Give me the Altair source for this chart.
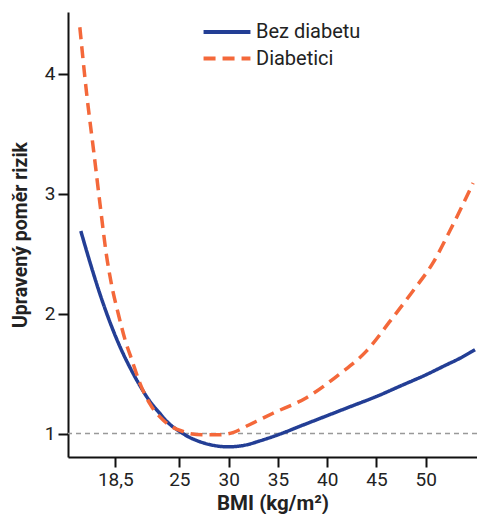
import altair as alt
import pandas as pd

series_names = ["Bez diabetu", "Diabetici"]

bmi_bez = [15.0, 16.0, 17.0, 18.0, 19.0, 20.0, 21.0, 22.0, 23.0, 24.0, 25.0, 26.0, 27.0, 28.0, 29.0, 30.0, 31.0, 32.0, 33.0, 35.0, 37.5, 40.0, 42.5, 45.0, 47.5, 50.0, 52.0, 53.5, 55.0]
rr_bez = [2.69, 2.41, 2.15, 1.92, 1.72, 1.55, 1.40, 1.27, 1.17, 1.08, 1.02, 0.97, 0.935, 0.91, 0.895, 0.89, 0.895, 0.91, 0.935, 0.99, 1.07, 1.15, 1.23, 1.31, 1.40, 1.49, 1.57, 1.63, 1.70]

bmi_dia = [14.9, 15.6, 16.3, 17.0, 17.6, 18.1, 18.8, 19.5, 20.2, 21.0, 22.0, 23.4, 24.4, 25.3, 26.1, 27.4, 29.0, 30.5, 32.0, 34.5, 37.9, 41.3, 44.0, 46.4, 48.7, 50.7, 52.5, 54.8]
rr_dia = [4.39, 3.83, 3.36, 2.88, 2.49, 2.25, 2.00, 1.78, 1.61, 1.42, 1.25, 1.11, 1.05, 1.02, 1.00, 0.99, 0.99, 1.01, 1.07, 1.17, 1.30, 1.50, 1.69, 1.94, 2.19, 2.42, 2.70, 3.09]

x_ticks = [18.5, 25, 30, 35, 40, 45, 50]
y_ticks = [1, 2, 3, 4]
ref_value = [1]

df = pd.concat([
    pd.DataFrame({"bmi": bmi_bez, "rr": rr_bez, "skupina": series_names[0]}),
    pd.DataFrame({"bmi": bmi_dia, "rr": rr_dia, "skupina": series_names[1]}),
])

FONT = "Roboto"

x_scale = alt.Scale(domain=[13.7, 55.2], nice=False, zero=False)
y_scale = alt.Scale(domain=[0.805, 4.517], nice=False, zero=False)

ref = alt.Chart(pd.DataFrame({"v": ref_value})).mark_rule(
    color="#999999", strokeWidth=1.5, strokeDash=[5, 4]
).encode(y=alt.Y("v:Q", scale=y_scale))

legend = alt.Legend(title=None, orient="none", legendX=145, legendY=6,
                    symbolType="M-2,0H2", symbolSize=550, symbolStrokeWidth=4,
                    labelFontSize=20, labelFont=FONT, labelColor="#222222",
                    rowPadding=2.5, labelOffset=15, padding=0)

lines = alt.Chart(df).mark_line(strokeWidth=3.5, interpolate="monotone").encode(
    x=alt.X("bmi:Q", scale=x_scale, title="BMI (kg/m²)",
            axis=alt.Axis(values=x_ticks, format=".1~f", labelExpr="replace(datum.label, '.', ',')",
                          titleFontSize=20.5)),
    y=alt.Y("rr:Q", scale=y_scale, title="Upravený poměr rizik",
            axis=alt.Axis(values=y_ticks, format="d", titleFontSize=19.5)),
    color=alt.Color("skupina:N", scale=alt.Scale(domain=series_names, range=["#233e95", "#f4683a"]),
                    legend=legend),
    strokeDash=alt.StrokeDash("skupina:N", scale=alt.Scale(domain=series_names, range=[[1, 0], [12, 7]]),
                              legend=legend),
    detail="skupina:N",
)

chart = alt.layer(ref, lines).properties(
    width=409, height=445,
    autosize=alt.AutoSizeParams(type="none"),
    padding={"left": 60, "top": 4, "right": 0, "bottom": 60},
).configure_view(stroke=None).configure_axis(
    grid=False, domainColor="#111111", domainWidth=2, tickColor="#111111", tickWidth=2,
    tickSize=10, labelFontSize=19, labelFont=FONT, labelColor="#222222", labelPadding=3,
    titleFont=FONT, titleFontWeight="bold", titleColor="#222222",
).configure_axisY(titlePadding=14).configure_axisX(titlePadding=4)

chart.save("out.html", embed_options={"renderer": "svg", "actions": False})
